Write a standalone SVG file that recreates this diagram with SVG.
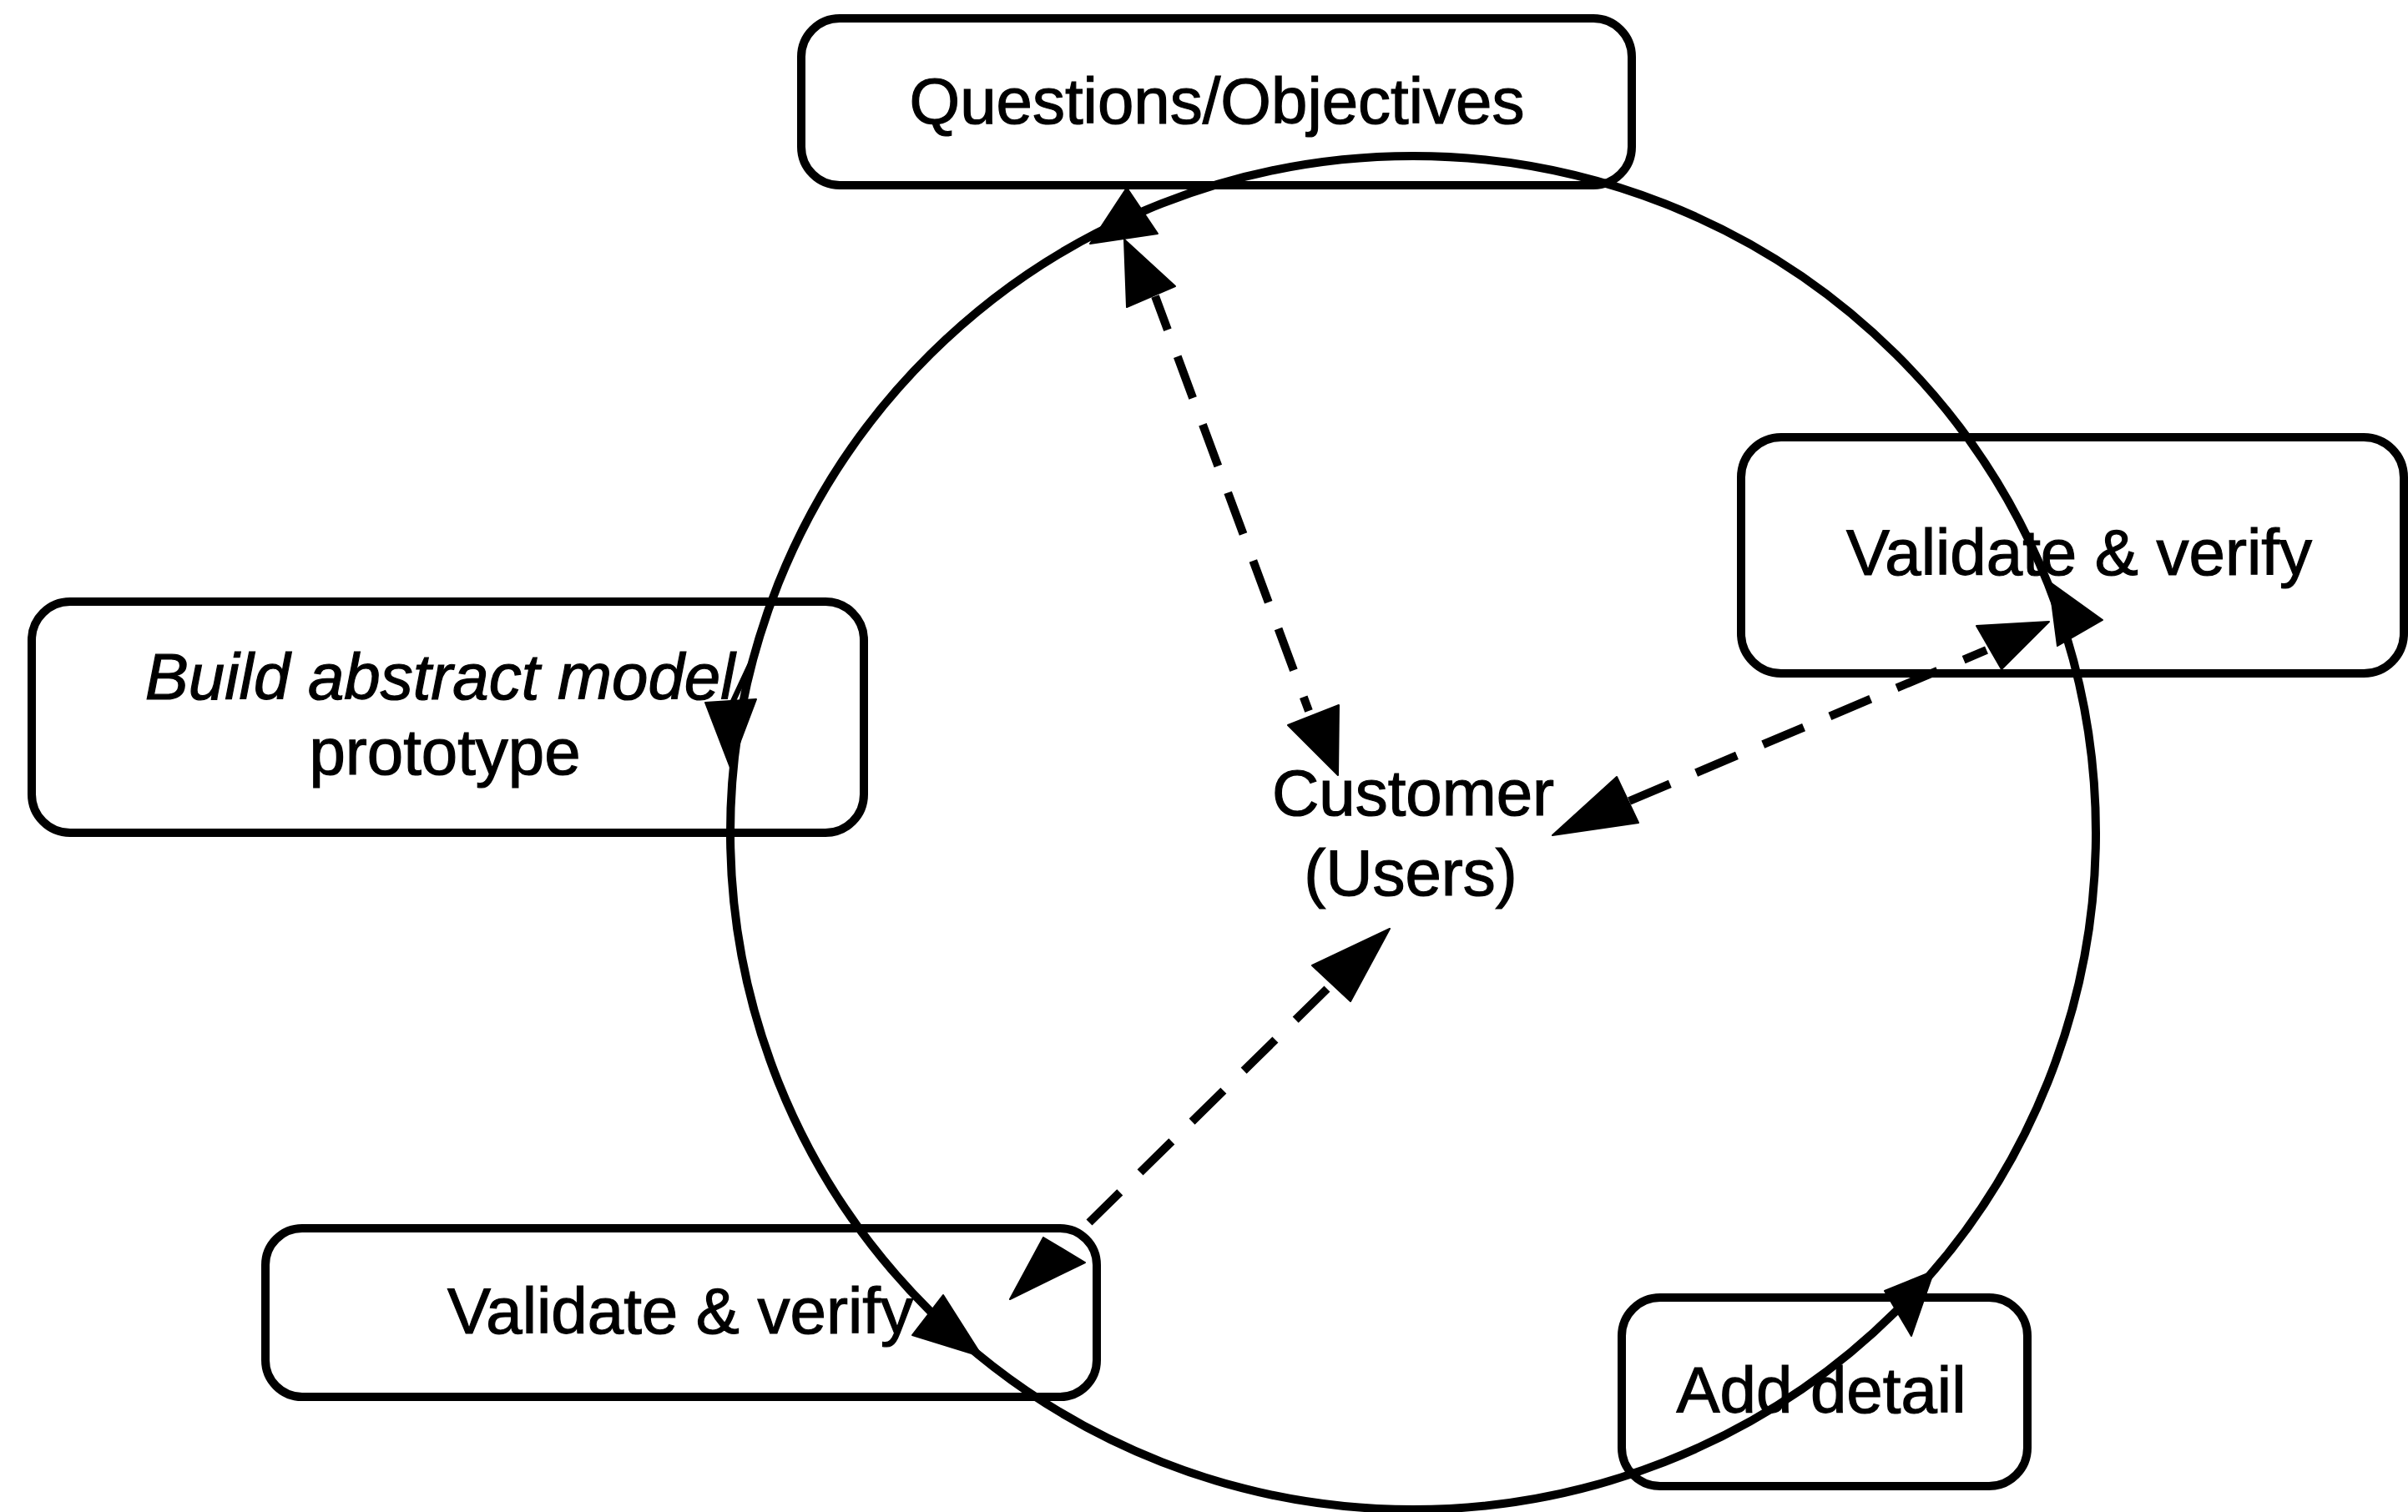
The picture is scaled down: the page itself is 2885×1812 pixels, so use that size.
<svg xmlns="http://www.w3.org/2000/svg" width="2885" height="1812" viewBox="0 0 2885 1812">
  <style>
    .box { fill: none; stroke: #000; stroke-width: 10; }
    .cycle { fill: none; stroke: #000; stroke-width: 10; }
    .dash { fill: none; stroke: #000; stroke-width: 10; stroke-dasharray: 53 34; }
    .head { fill: #000; stroke: #000; stroke-width: 2; stroke-linejoin: round; }
    .lbl { font-family: "Liberation Sans", Arial, sans-serif; font-size: 78px; fill: #000; stroke: #000; stroke-width: 1.2; text-anchor: middle; }
    .it { font-style: italic; }
  </style>

  <rect width="2885" height="1812" fill="#fff"/>

  <!-- process nodes -->
  <g id="node-questions">
    <rect class="box" x="960" y="22" width="995" height="200" rx="46" ry="46"/>
    <text class="lbl" x="1458" y="148">Questions/Objectives</text>
  </g>
  <g id="node-validate-right">
    <rect class="box" x="2086" y="524" width="794" height="283" rx="48" ry="48"/>
    <text class="lbl" x="2491" y="689">Validate &amp; verify</text>
  </g>
  <g id="node-build">
    <rect class="box" x="38" y="721" width="997" height="277" rx="46" ry="46"/>
    <text class="lbl it" x="538" y="838">Build abstract model/</text>
    <text class="lbl" x="533" y="928">prototype</text>
  </g>
  <g id="node-validate-left">
    <rect class="box" x="318" y="1472" width="996" height="202" rx="44" ry="44"/>
    <text class="lbl" x="815" y="1598">Validate &amp; verify</text>
  </g>
  <g id="node-add-detail">
    <rect class="box" x="1943" y="1555" width="486" height="226" rx="46" ry="46"/>
    <text class="lbl" x="2182" y="1693">Add detail</text>
  </g>
  <g id="node-customer">
    <text class="lbl" x="1693" y="977">Customer</text>
    <text class="lbl" x="1690" y="1073">(Users)</text>
  </g>

  <!-- connectors: development cycle and customer links -->
  <g id="connectors">
    <ellipse class="cycle" cx="1693" cy="998" rx="818" ry="811"/>

    <!-- cycle arrowheads -->
    <polygon class="head" points="1350,225 1306,292 1387,280"/>
    <polygon class="head" points="845,842 906,838 875,920"/>
    <polygon class="head" points="1093,1600 1130,1552 1177,1626"/>
    <polygon class="head" points="2258,1547 2317,1523 2290,1601"/>
    <polygon class="head" points="2368,750 2455,745 2398,802"/>

    <!-- customer to questions -->
    <path class="dash" d="M1384,355 L1568,852" stroke-dashoffset="10"/>
    <polygon class="head" points="1347,287 1408,343 1350,368"/>
    <polygon class="head" points="1543,869 1604,845 1603,929"/>

    <!-- customer to validate (right) -->
    <path class="dash" d="M1952,960 L2380,779"/>
    <polygon class="head" points="1860,1001 1937,931 1963,986"/>
    <polygon class="head" points="2455,697 2465,774 2519,743"/>

    <!-- customer to validate (left) -->
    <path class="dash" d="M1590,1185 L1305,1465"/>
    <polygon class="head" points="1665,1113 1572,1157 1618,1200"/>
    <polygon class="head" points="1210,1557 1250,1483 1300,1513"/>
  </g>
</svg>
